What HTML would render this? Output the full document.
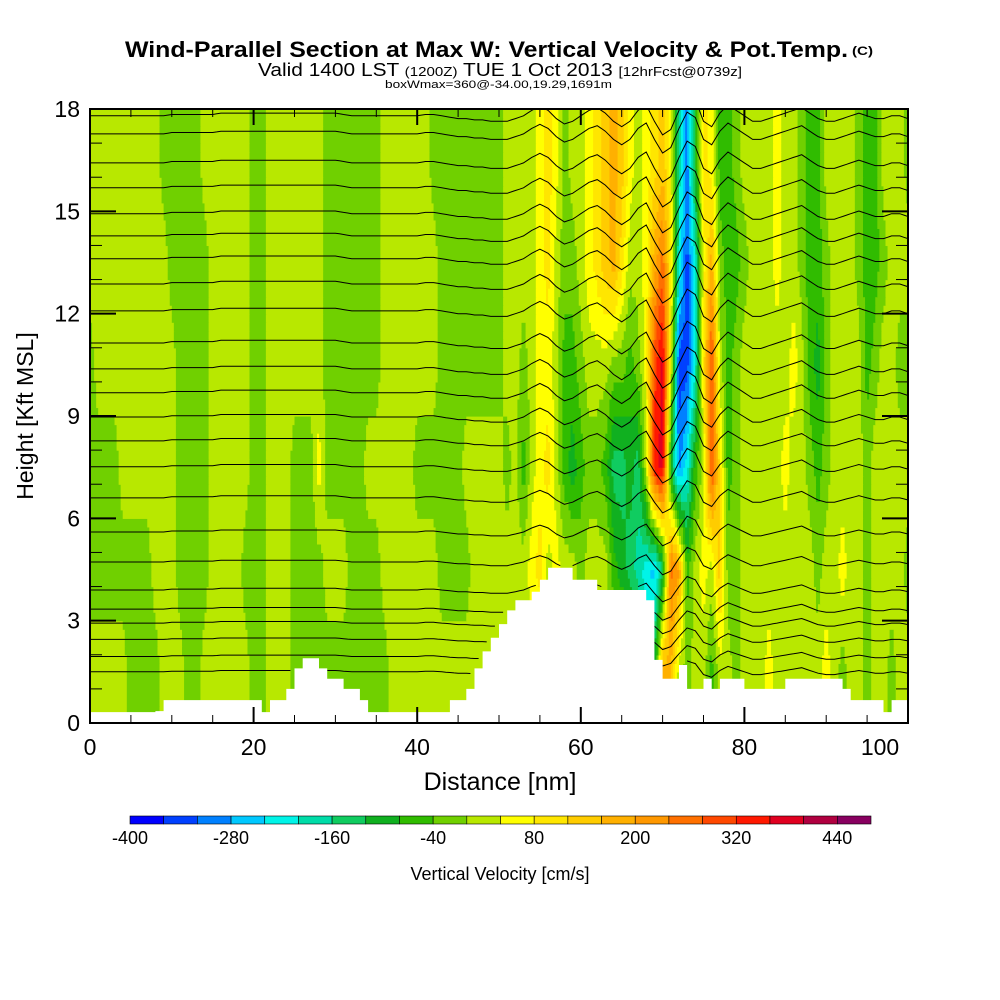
<!DOCTYPE html>
<html><head><meta charset="utf-8"><style>
html,body{margin:0;padding:0;background:#fff;}
svg{display:block;font-family:"Liberation Sans",sans-serif;}
</style></head><body>
<svg id="chart" width="1000" height="1000" viewBox="0 0 1000 1000">
<rect x="0" y="0" width="1000" height="1000" fill="#fff"/>
<g>
<text x="125" y="57" font-size="22" font-weight="bold" textLength="723" lengthAdjust="spacingAndGlyphs">Wind-Parallel Section at Max W: Vertical Velocity &amp; Pot.Temp.</text>
<text x="852" y="55" font-size="12" font-weight="bold" textLength="21" lengthAdjust="spacingAndGlyphs">(C)</text>
<text x="258" y="76" font-size="18" textLength="484" lengthAdjust="spacingAndGlyphs">Valid 1400 LST <tspan font-size="13">(1200Z)</tspan> TUE 1 Oct 2013 <tspan font-size="13">[12hrFcst@0739z]</tspan></text>
<text x="385" y="88" font-size="11" textLength="227" lengthAdjust="spacingAndGlyphs">boxWmax=360@-34.00,19.29,1691m</text>
</g>
<defs><clipPath id="plotclip"><rect x="90" y="109" width="818" height="614"/></clipPath></defs>
<g id="field" clip-path="url(#plotclip)"></g>
<g id="contours" clip-path="url(#plotclip)"></g>
<g id="terrain" clip-path="url(#plotclip)"></g>
<rect x="90" y="109" width="818" height="614" fill="none" stroke="#000" stroke-width="2"/>
<g id="axes"></g>
<text x="500" y="790" font-size="25" text-anchor="middle">Distance [nm]</text>
<text transform="translate(33,416) rotate(-90)" font-size="23" text-anchor="middle">Height [Kft MSL]</text>
<g id="cbar"></g>
<text x="500" y="880" font-size="18" text-anchor="middle">Vertical Velocity [cm/s]</text>
</svg>
<script>
// ---- data ----
const binColors = ["#0000ff","#0040ff","#0080ff","#00c8ff","#00f4e8","#00dca8","#10cc60","#10b020","#30bc00","#70d000","#b8e800","#ffff00","#ffe600","#ffcc00","#ffb000","#ff9800","#ff7000","#ff4800","#ff1800","#e00020","#b00040","#880060"];
const binStart = -400, binStep = 40;
const cbarLabels = [-400,-280,-160,-40,80,200,320,440];
const levels = [1.5, 4.5, 7.5, 10.5, 13.5, 16.5];
const w_1_5 = [20,20,20,20,20,-20,-20,-20,-20,20,20,20,-20,-20,20,20,20,20,20,20,-20,-20,20,20,20,-20,-20,-20,-20,-20,-20,-20,-20,-20,-20,-20,-20,20,20,20,20,20,20,20,20,20,20,20,20,20,20,20,20,
 20,20,20,20,20,20,20,20,20,20,20,20,20,20,-60,-180,-100,180,160,20,-20,20,20,-60,20,20,-20,20,20,20,60,20,20,20,20,20,20,60,20,-20,20,20,-20,20,20,-20,20,20,20];
const w_4_5 = [-20,-20,-20,-20,-20,-20,-20,-20,20,20,20,-20,-20,-20,-20,20,20,20,20,-20,-20,-20,20,20,20,-20,-20,-20,-20,20,20,20,-20,-20,-20,-20,20,20,20,20,20,20,20,-20,-20,-20,-20,20,20,20,20,20,20,
 20,60,100,20,60,20,20,-20,20,20,20,-60,-100,-140,-180,-220,-260,-140,260,200,-60,20,60,20,140,-20,-20,20,20,20,20,20,20,20,20,20,-20,20,20,60,20,20,-20,20,20,20,20,-20,-20];
const w_7_5 = [-20,-20,-20,-20,20,20,20,20,20,20,20,-20,-20,-20,-20,20,20,20,20,20,-20,-20,20,20,20,-20,-20,-20,60,-20,-20,-20,-20,-20,20,20,20,20,20,20,-20,-20,-20,-20,-20,-20,20,20,20,20,20,-20,20,
 -60,20,60,100,20,-60,-100,-60,-20,-20,-60,-140,-140,-100,-140,20,340,380,-100,-300,-220,-60,20,300,100,-60,-20,20,20,20,20,20,60,20,20,-20,-60,-20,20,20,20,20,-20,20,20,20,20,20,-20];
const w_10_5 = [-20,20,20,20,20,20,20,20,20,20,20,-20,-20,-20,-20,20,20,20,20,20,-20,-20,20,20,20,20,20,20,20,-20,-20,-20,-20,-20,-20,-20,20,20,20,20,20,20,20,-20,-20,-20,-20,-20,-20,-20,-20,20,20,
 -20,20,60,60,20,-60,-60,-20,20,20,20,-20,-20,-60,-20,60,300,380,60,-340,-340,-200,100,300,20,-60,-20,20,20,20,20,20,20,60,20,-60,-100,-20,20,20,20,20,-60,-20,20,20,-20,-20,20];
const w_13_5 = [20,20,20,20,20,20,20,20,20,20,-20,-20,-20,-20,-20,20,20,20,20,20,-20,-20,20,20,20,20,20,20,20,-20,-20,-20,-20,-20,-20,-20,20,20,20,20,20,20,20,-20,-20,-20,-20,-20,-20,-20,-20,20,20,
 20,20,60,100,20,-20,-20,20,60,100,140,180,100,20,20,60,180,260,100,-200,-340,-200,60,180,-20,-60,-60,-20,20,20,20,60,20,20,-20,-60,-60,-20,20,20,20,-20,-60,-60,-20,20,20,20,-20];
const w_16_5 = [20,20,20,20,20,20,20,20,20,-20,-20,-20,-20,-20,20,20,20,20,20,20,-20,-20,20,20,20,20,20,20,20,-20,-20,-20,-20,-20,-20,-20,20,20,20,20,20,20,-20,-20,-20,-20,-20,-20,-20,-20,-20,20,20,
 20,20,60,100,60,-20,20,20,60,100,140,180,140,60,20,60,100,140,60,-180,-300,-100,100,60,-60,-60,-20,20,20,20,20,60,20,20,-20,-60,-60,20,20,20,20,-20,-60,-60,20,20,20,-20,-20];
const terrain = [0.32,0.32,0.32,0.32,0.32,0.32,0.32,0.32,0.35,0.67,0.67,0.67,0.67,0.67,0.67,0.67,0.67,0.67,0.67,0.67,0.67,0.32,0.67,0.67,1.0,1.6,1.9,1.9,1.6,1.3,1.3,1.0,1.0,0.67,0.32,0.32,0.32,0.32,0.32,0.32,0.32,0.32,0.32,0.32,0.67,0.67,1.0,1.6,2.1,2.5,2.9,3.3,3.6,
 3.6,3.85,4.2,4.55,4.55,4.55,4.2,4.2,4.2,3.9,3.9,3.9,3.9,3.9,3.9,3.6,1.85,1.3,1.3,1.7,1.0,1.0,1.3,1.0,1.3,1.3,1.3,1.0,1.0,1.0,1.0,1.0,1.3,1.3,1.3,1.3,1.3,1.3,1.3,1.0,0.67,0.67,0.67,0.67,0.32,0.67,0.67,0.67,0.67,0.67,0.67,0.67];
const thetaBase = [17.8,17.27,16.42,15.69,14.93,14.28,13.61,12.87,12.08,11.14,10.38,9.68,8.97,8.27,7.51,6.6,5.6,4.72,3.9,3.34,2.93,2.45,1.95,1.5];
const thetaDisp = [0,0,0,0,0,0,0,0,0,0,0.05,0.05,0.05,0.05,0.05,0.05,0.1,0.1,0.1,0.1,0.1,0.1,0.1,0.1,0.1,0.1,0.1,0.1,0.1,0.1,0.1,0.05,0,0,0,0,0,0,0,0,0,0.05,0.05,0,-0.05,-0.1,-0.1,-0.15,-0.15,-0.2,-0.2,-0.2,-0.1,
 0,0.2,0.35,0.2,-0.1,-0.3,-0.2,0,0.2,0.3,0.1,-0.2,-0.4,-0.2,0.2,0.4,-0.2,-0.7,-0.5,0.2,0.8,0.6,-0.2,-0.4,0.1,0.4,0.2,0,-0.2,-0.2,-0.1,0,0.1,0.2,0.3,0.1,-0.1,-0.2,-0.2,-0.1,0,0.1,0,-0.1,-0.1,0,0,-0.1,-0.1];
const xTicks = [0,20,40,60,80,100];
const yTicks = [0,3,6,9,12,15,18];

// ---- axes ----
const NS='http://www.w3.org/2000/svg';
const X0=90, X1=908, Y0=723, Y1=109;
const xs = d => X0 + d*8.18;
const ys = h => Y0 - h*(Y0-Y1)/18;
const wRows=[w_1_5,w_4_5,w_7_5,w_10_5,w_13_5,w_16_5];
function mk(tag,attrs,parent){const e=document.createElementNS(NS,tag);for(const k in attrs)e.setAttribute(k,attrs[k]);parent.appendChild(e);return e;}
function colAt(row,d){const n=row.length-1;d=Math.max(0,Math.min(n,d));const i=Math.min(n-1,Math.floor(d));const f=d-i;return row[i]*(1-f)+row[i+1]*f;}
function wAt(d,h){
  if(h<=levels[0])return colAt(wRows[0],d);
  if(h>=levels[levels.length-1])return colAt(wRows[wRows.length-1],d);
  let k=0;while(levels[k+1]<h)k++;
  const f=(h-levels[k])/(levels[k+1]-levels[k]);
  return colAt(wRows[k],d)*(1-f)+colAt(wRows[k+1],d)*f;
}
function binOf(v){let b=Math.floor((v-binStart)/binStep);return Math.max(0,Math.min(binColors.length-1,b));}

// field
const field=document.getElementById('field');
const dx=0.25, dh=0.25;
for(let h=0;h<18;h+=dh){
  let runStart=0, runBin=binOf(wAt(dx/2,h+dh/2));
  for(let d=dx;d<=101.5;d+=dx){
    const b = d<101.5 ? binOf(wAt(d+dx/2,h+dh/2)) : -1;
    if(b!==runBin){
      const r=mk('rect',{x:xs(runStart).toFixed(2),y:ys(h+dh).toFixed(2),width:(xs(d)-xs(runStart)+0.6).toFixed(2),height:(ys(h)-ys(h+dh)+0.6).toFixed(2),fill:binColors[runBin]},field);
      
      
      runStart=d;runBin=b;
    }
  }
}
// terrain
function terrAt(d){const i=Math.max(0,Math.min(terrain.length-1,Math.floor(d)));return terrain[i];}
let tp='M'+xs(0)+','+ys(0);
for(let i=0;i<terrain.length;i++){tp+=' L'+xs(i).toFixed(1)+','+ys(terrain[i]).toFixed(1)+' L'+xs(i+1).toFixed(1)+','+ys(terrain[i]).toFixed(1);}
tp+=' L'+xs(terrain.length)+','+ys(0)+' Z';
const tpath=mk('path',{d:tp,fill:'#fff',stroke:'none'},document.getElementById('terrain'));



// contours
const cg=document.getElementById('contours');
thetaBase.forEach(hb=>{
  const fac = Math.max(0.5,Math.min(1,0.5+(hb-2)/16));
  let path='',pen=false;
  for(let d=0;d<=101.5;d+=0.5){
    const h=hb+colAt(thetaDisp,d)*fac*0.8;
    if(h<=terrAt(d)+0.05){pen=false;continue;}
    path+=(pen?' L':' M')+xs(d).toFixed(1)+','+ys(h).toFixed(1);pen=true;
  }
  const p=mk('path',{d:path,fill:'none',stroke:'#000','stroke-width':1},cg);
  
  
});

// axes ticks & labels
const ax=document.getElementById('axes');
for(let d=0;d<=100;d+=5){
  const L=(d%20===0)?16:8;
  mk('line',{x1:xs(d),y1:Y0,x2:xs(d),y2:Y0-L,stroke:'#000','stroke-width':d%20===0?2:1},ax);
  mk('line',{x1:xs(d),y1:Y1,x2:xs(d),y2:Y1+L,stroke:'#000','stroke-width':d%20===0?2:1},ax);
}
for(let h=0;h<=18;h++){
  const L=(h%3===0)?26:12;
  mk('line',{x1:X0,y1:ys(h),x2:X0+L,y2:ys(h),stroke:'#000','stroke-width':h%3===0?2:1},ax);
  mk('line',{x1:X1,y1:ys(h),x2:X1-L,y2:ys(h),stroke:'#000','stroke-width':h%3===0?2:1},ax);
}
xTicks.forEach(v=>{const t=mk('text',{x:Math.min(xs(v),880),y:755,'font-size':23,'text-anchor':'middle'},ax);t.textContent=v;
 
 });
yTicks.forEach(v=>{const t=mk('text',{x:80,y:ys(v)+8,'font-size':23,'text-anchor':'end'},ax);t.textContent=v;
 
 });

// colorbar
const cb=document.getElementById('cbar');
const cbX0=130,cbX1=871,bw=(cbX1-cbX0)/binColors.length;
binColors.forEach((c,i)=>{const r=mk('rect',{x:cbX0+i*bw,y:816,width:bw,height:8,fill:c,stroke:'#000','stroke-width':0.6},cb);
 
 });
cbarLabels.forEach(v=>{const t=mk('text',{x:cbX0+(v-binStart)/binStep*bw,y:844,'font-size':18,'text-anchor':'middle'},cb);t.textContent=v;
 
 });
</script>
</body></html>
